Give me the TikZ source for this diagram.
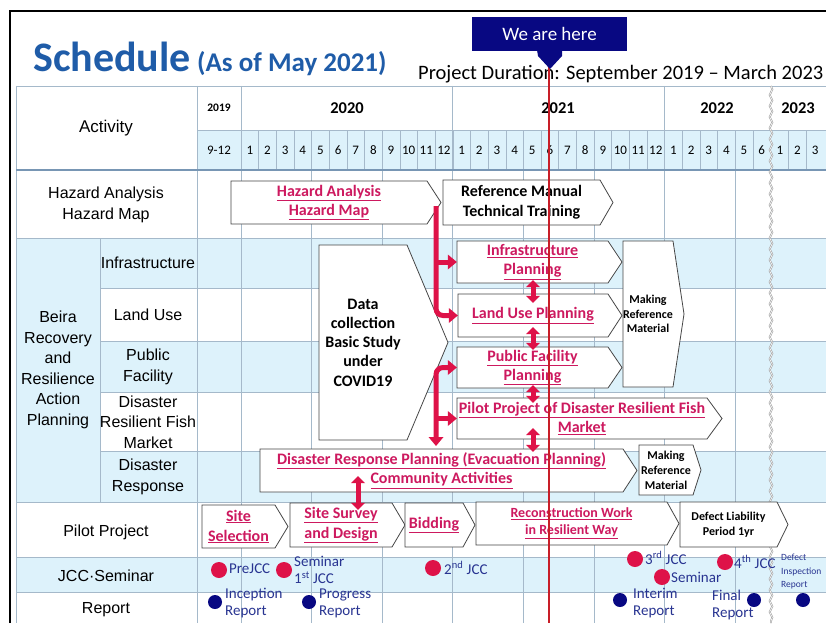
\documentclass[tikz,border=0pt]{standalone}
\usepackage{fontspec}
\setmainfont{Carlito}
\newfontfamily\arialf{Liberation Sans}
\usetikzlibrary{arrows.meta,calc,decorations.pathmorphing}
\definecolor{lblue}{RGB}{221,242,251}
\definecolor{gridc}{RGB}{165,185,202}
\definecolor{gridd}{RGB}{120,150,180}
\definecolor{titleblue}{RGB}{31,92,168}
\definecolor{mag}{RGB}{205,25,95}
\definecolor{crim}{RGB}{222,18,72}
\definecolor{navyb}{RGB}{8,8,130}
\definecolor{lblc}{RGB}{40,52,145}
\definecolor{redln}{RGB}{200,30,40}
\definecolor{chevc}{RGB}{70,70,70}
\newcommand\fsz[2]{\fontsize{#1}{#2}\selectfont}
\newcommand\ul[1]{\underline{#1}}
% name, style, x1, y1, body-right x2, y2, tip x, text
\newcommand\chev[8]{%
  \path[chevline] (#3,#4) -- (#5,#4) -- (#7,{(#4+#6)/2}) -- (#5,#6) -- (#3,#6) -- cycle;
  \node[chevbody, #2, minimum width={(#5)-(#3)}, minimum height={(#6)-(#4)}] (#1) at ({(#3+#5)/2},{(#4+#6)/2}) {#8};}
\begin{document}
\begin{tikzpicture}[x=1pt,y=-1pt,
  gridl/.style={gridc, line width=0.7pt},
  chevline/.style={draw=chevc, line width=0.8pt, fill=white},
  chevbody/.style={inner sep=0pt, align=center},
  magt/.style={text=mag, font=\bfseries\fsz{16}{19.5}},
  magw/.style={text=mag, font=\bfseries\fsz{16}{20}},
  blkt/.style={text=black, font=\bfseries\fsz{16}{20}},
  smallt/.style={text=black, font=\bfseries\fsz{12}{14.5}},
  leftl/.style={font=\arialf\fsz{16}{20.5}, align=center, inner sep=0pt},
  mon/.style={font=\fsz{13}{13}, inner sep=0pt},
  redc/.style={crim, line width=5pt},
  rtip/.tip={Triangle[width=15pt,length=9pt,line width=0pt]},
  dtip/.tip={Triangle[width=14pt,length=7pt,line width=0pt]},
  dblc/.style={crim, line width=5pt, {dtip}-{dtip}},
  jcc/.style={circle, fill=crim, minimum size=16pt, inner sep=0pt},
  rep/.style={circle, fill=navyb, minimum size=14pt, inner sep=0pt},
  lbl/.style={text=lblc, font=\fsz{15}{17}, inner sep=0pt, align=left}]
\useasboundingbox (0,0) rectangle (826,623);
\clip (0,0) rectangle (826,623);
\fill[white] (0,0) rectangle (826,623);
% frame
\draw[black, line width=1.5pt] (10,623) -- (10,11) -- (826,11);
% fills
\fill[lblue] (197,130) rectangle (826,170);
\fill[lblue] (16,238) rectangle (100,502);
\fill[lblue] (100,238) rectangle (826,288);
\fill[lblue] (100,341) rectangle (826,392);
\fill[lblue] (100,451) rectangle (826,502);
\fill[lblue] (16,557) rectangle (826,592);
% grid
\draw[gridl] (16,86) -- (826,86);
\draw[gridl] (197,130) -- (826,130);
\draw[gridl] (16,86) -- (16,623);
\draw[gridl] (197,86) -- (197,623);
\draw[gridl] (241,86) -- (241,623);
\draw[gridl] (100,238) -- (100,502);
\foreach \yy in {238,502,557,592} \draw[gridl] (16,\yy) -- (826,\yy);
\foreach \yy in {288,341,392,451} \draw[gridl] (100,\yy) -- (826,\yy);
\foreach \m in {1,...,29} \draw[gridc, line width=0.5pt] ({241+17.65*\m},130) -- ({241+17.65*\m},170);
\foreach \xx in {788.6,806.3} \draw[gridc, line width=0.5pt] (\xx,130) -- (\xx,170);
\foreach \m in {4,8,...,28} \draw[gridl] ({241+17.65*\m},170) -- ({241+17.65*\m},623);
\foreach \m in {12,24} \draw[gridl] ({241+17.65*\m},86) -- ({241+17.65*\m},170);
\draw[gridd, line width=1.3pt] (16,170) -- (826,170);
% wavy break
\draw[gray!75, line width=1.8pt, decorate, decoration={snake, segment length=11pt, amplitude=1.3pt}] (771,86) -- (771,623);
\draw[white, line width=0.6pt, decorate, decoration={snake, segment length=11pt, amplitude=1.3pt}] (771,86) -- (771,623);
% header
\node[font=\bfseries\fsz{42}{42}, text=titleblue, anchor=base west, inner sep=0pt] (ttl) at (33,72) {Schedule};
\node[font=\bfseries\fsz{27}{27}, text=titleblue, anchor=base west, inner sep=0pt] (ttl2) at (197,72) {(As of May 2021)};
\node[font=\fsz{20.5}{20.5}, anchor=base west, inner sep=0pt] (dur) at (418,80) {Project Duration: September 2019 – March 2023};
\node[font=\arialf\fsz{17}{17}, inner sep=0pt] (act) at (106,128) {Activity};
\node[font=\bfseries\fsz{11.5}{12}, inner sep=0pt] (y19) at (219,108) {2019};
\node[font=\bfseries\fsz{16.5}{17}, inner sep=0pt] (y20) at (347,108) {2020};
\node[font=\bfseries\fsz{16.5}{17}, inner sep=0pt] (y21) at (558,108) {2021};
\node[font=\bfseries\fsz{16.5}{17}, inner sep=0pt] (y22) at (717,108) {2022};
\node[font=\bfseries\fsz{16.5}{17}, inner sep=0pt] (y23) at (798,108) {2023};
\node[mon] (m912) at (219,150) {9-12};
\foreach \m in {1,...,12} \node[mon] (ma\m) at ({241+17.65*(\m-0.5)},150) {\m};
\foreach \m in {1,...,12} \node[mon] (mb\m) at ({452.8+17.65*(\m-0.5)},150) {\m};
\foreach \m in {1,...,6} \node[mon] (mc\m) at ({664.6+17.65*(\m-0.5)},150) {\m};
\foreach \m in {1,...,3} \node[mon] (md\m) at ({771+17.65*(\m-0.5)},150) {\m};
% left labels
\node[leftl] (hzl) at (106,205) {Hazard Analysis\\Hazard Map};
\node[leftl] (beira) at (58,370) {Beira\\Recovery\\and\\Resilience\\Action\\Planning};
\node[leftl] (infl) at (148,263) {Infrastructure};
\node[leftl] (lul) at (148,315) {Land Use};
\node[leftl] (pfl) at (148,367) {Public\\Facility};
\node[leftl] (fml) at (148,422) {Disaster\\Resilient Fish\\Market};
\node[leftl] (drl) at (148,477) {Disaster\\Response};
\node[leftl] (ppl) at (106,532) {Pilot Project};
\node[leftl] (jccl) at (106,576) {JCC·Seminar};
\node[leftl] (repl) at (106,610) {Report};
% chevrons
\chev{hz}{magt}{231}{181}{427}{224}{441}{\ul{Hazard Analysis}\\\ul{Hazard Map}}
\chev{rm}{blkt}{443}{180}{600}{225}{613}{Reference Manual\\Technical Training}
\chev{dc}{blkt, font=\bfseries\fsz{16}{19.3}}{319}{245}{407}{440}{448}{Data\\collection\\Basic Study\\under\\COVID19}
\chev{inf}{magt}{457}{241}{608}{283}{622}{\ul{Infrastructure}\\\ul{Planning}}
\chev{lu}{magt}{458}{294}{608}{337}{622}{\ul{Land Use Planning}}
\chev{pf}{magt}{457}{347}{608}{388}{622}{\ul{Public Facility}\\\ul{Planning}}
\chev{mra}{smallt}{623}{241}{673}{387}{684}{Making\\Reference\\Material}
\chev{fm}{magt}{457}{398}{707}{439}{722}{\ul{Pilot Project of Disaster Resilient Fish}\\\ul{Market}}
\chev{dr}{magt}{260}{449}{623}{492}{637}{\ul{Disaster Response Planning (Evacuation Planning)}\\\ul{Community Activities}}
\chev{mrb}{smallt, font=\bfseries\fsz{12}{15}}{639}{445}{693}{495}{701}{Making\\Reference\\Material}
\chev{ss}{magw}{202}{505}{275}{548}{288}{\ul{Site}\\\ul{Selection}}
\chev{sd}{magw}{290}{503}{392}{547}{405}{\ul{Site Survey}\\\ul{and Design}}
\chev{bd}{magw}{405}{503}{463}{547}{475}{\ul{Bidding}}
\chev{rw}{magt, font=\bfseries\fsz{14}{17}}{476}{502}{667}{545}{679}{\ul{Reconstruction Work}\\\ul{in Resilient Way}}
\chev{dl}{smallt, font=\bfseries\fsz{12}{15.5}}{680}{502}{777}{547}{788}{Defect Liability\\Period 1yr}
% red connectors
\coordinate (bartop) at (436,206);
\coordinate (barbot) at (436,446);
\draw[redc, rounded corners=7pt, -{rtip}] (bartop) |- (lu.west);
\draw[redc, -{rtip}] (bartop |- inf.west) -- (inf.west);
\draw[redc, rounded corners=7pt, {rtip}-{rtip}] (pf.west) -| (barbot);
\draw[redc, -{rtip}] (barbot |- fm.west) -- (fm.west);
\coordinate (dx) at (533,0);
\coordinate (dy) at (358,0);
\draw[dblc] ($(inf.south -| dx)+(0,-3)$) -- ($(lu.north -| dx)+(0,9)$);
\draw[dblc] ($(lu.south -| dx)+(0,-10)$) -- ($(pf.north -| dx)+(0,3)$);
\draw[dblc] ($(pf.south -| dx)+(0,-3)$) -- ($(fm.north -| dx)+(0,5)$);
\draw[dblc] ($(fm.south -| dx)+(0,-11)$) -- ($(dr.north -| dx)+(0,3)$);
\draw[dblc] ($(dr.south -| dy)+(0,-16)$) -- ($(sd.north -| dy)+(0,7)$);
% JCC / Seminar
\node[jcc] (j1) at (219,570) {};
\node[lbl, anchor=west] (j1t) at (229,569) {PreJCC};
\node[jcc] (j2) at (284,570) {};
\node[lbl, anchor=west] (j2t) at (294,570) {Seminar\\1\textsuperscript{st} JCC};
\node[jcc] (j3) at (433,568) {};
\node[lbl, anchor=west] (j3t) at (444,568) {2\textsuperscript{nd} JCC};
\node[jcc] (j4) at (635,559) {};
\node[lbl, anchor=west] (j4t) at (645,558) {3\textsuperscript{rd} JCC};
\node[jcc] (j5) at (662,577) {};
\node[lbl, anchor=west] (j5t) at (671,577) {Seminar};
\node[jcc] (j6) at (725,562) {};
\node[lbl, anchor=west] (j6t) at (734,562) {4\textsuperscript{th} JCC};
\node[lbl, anchor=west, font=\fsz{9.5}{13.5}] (dir) at (781,572) {Defect\\Inspection\\Report};
% Reports
\node[rep] (r1) at (215,602) {};
\node[lbl, anchor=west] (r1t) at (225,603) {Inception\\Report};
\node[rep] (r2) at (309,602) {};
\node[lbl, anchor=west] (r2t) at (319,603) {Progress\\Report};
\node[rep] (r3) at (620,600) {};
\node[lbl, anchor=west] (r3t) at (633,603) {Interim\\Report};
\node[rep] (r4) at (754,600) {};
\node[lbl, anchor=west] (r4t) at (712,605) {Final\\Report};
\node[rep] (r5) at (803,600) {};
% We are here
\coordinate (heretip) at (549,62);
\coordinate (linebot) at (549,623);
\draw[redln, line width=1.3pt] (heretip) -- (linebot);
\node[fill=navyb, text=white, minimum width=155pt, minimum height=34pt, inner sep=0pt, font=\fsz{19}{19}] (here) at (549.5,34) {We are here};
\fill[navyb] (537,50) -- (562,50) -- (562,56) -- (550,69) -- (538,56) -- cycle;
\end{tikzpicture}
\end{document}
